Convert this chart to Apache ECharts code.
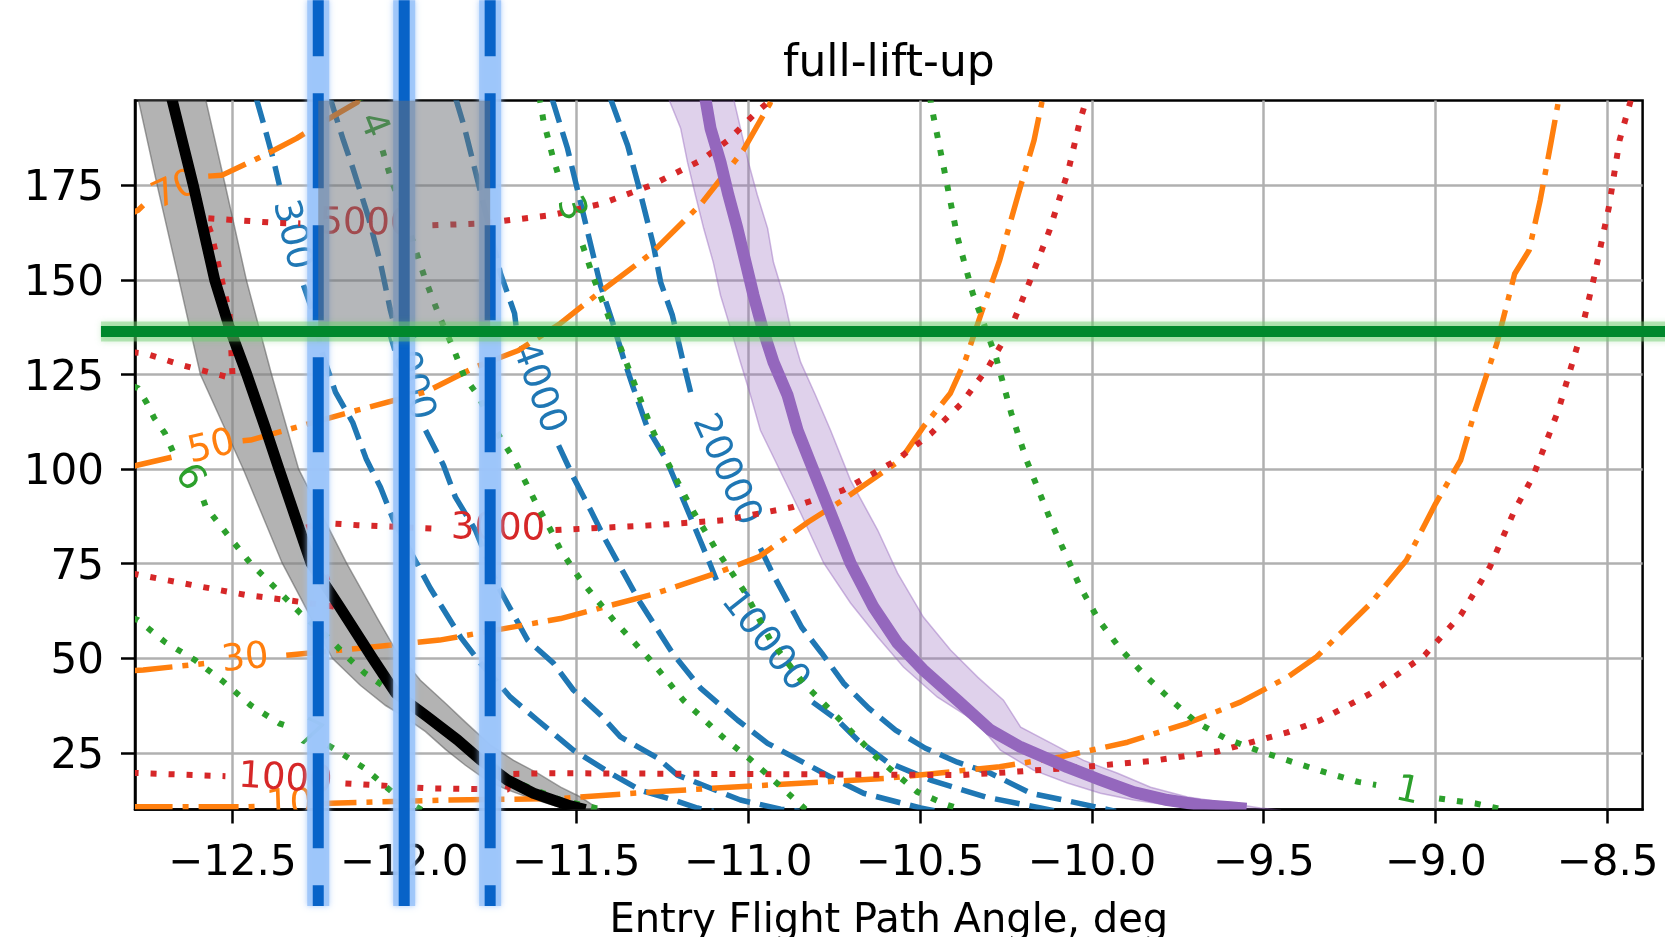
<!DOCTYPE html>
<html>
<head>
<meta charset="utf-8">
<script src="https://cdn.jsdelivr.net/npm/echarts@6/dist/echarts.min.js"></script>
<style>
  html, body { margin: 0; padding: 0; background: #fff; }
  #chart { width: 1665px; height: 937px; }
</style>
</head>
<body>
<div id="chart"></div>
<script>
// ---- axes ----
const xRange = [-12.783, -8.398];
const yRange = [10, 197.5];
const xTicks = [-12.5, -12.0, -11.5, -11.0, -10.5, -10.0, -9.5, -9.0, -8.5];
const yTicks = [25, 50, 75, 100, 125, 150, 175];

// ---- contour lines: [entry flight path angle, y]; null marks the inline label gap ----
const blue300 = [[-12.43,198],[-12.406,190.4],[-12.380,181.7],[-12.363,175.1], null, [-12.293,148.7],[-12.261,140.2],[-12.241,131.4],[-12.200,120.4],[-12.150,112.4],[-12.110,102.6],[-12.069,95.2],[-12.031,86.5],[-11.924,68.5],[-11.836,55.6],[-11.778,48.7],[-11.691,39.7],[-11.612,33.6],[-11.508,25.7],[-11.400,19.6],[-11.313,15.1],[-11.217,12.5],[-11.147,10.4],[-11.10,9.5]];
const blue1000 = [[-12.215,198],[-12.177,187.0],[-12.150,179.8],[-12.104,166.6],[-12.069,154.5],[-12.040,142.0],[-12.034,139.9], null, [-11.938,110.3],[-11.886,101.1],[-11.851,92.6],[-11.793,83.9],[-11.726,68.8],[-11.641,54.8],[-11.566,48.7],[-11.508,41.6],[-11.429,35.0],[-11.371,29.2],[-11.263,23.6],[-11.205,19.1],[-11.022,12.5],[-10.905,10.1],[-10.85,9.5]];
const blue4000 = [[-11.85,198],[-11.825,190.4],[-11.801,181.7],[-11.743,160.5],[-11.720,151.8],[-11.679,141.2],[-11.673,136.7], null, [-11.551,106.3],[-11.508,97.9],[-11.458,89.2],[-11.414,81.2],[-11.318,65.4],[-11.220,51.4],[-11.138,42.1],[-11.030,33.6],[-10.943,27.5],[-10.760,18.6],[-10.664,14.3],[-10.498,10.4],[-10.45,9.5]];
const blue10000 = [[-11.57,198],[-11.525,184.8],[-11.478,167.1],[-11.429,148.6],[-11.394,138.9],[-11.362,129.3],[-11.333,121.4],[-11.292,110.8],[-11.237,102.4],[-11.176,89.2],[-11.109,74.6],[-11.092,70.7], null, [-10.812,38.4],[-10.739,33.6],[-10.681,28.4],[-10.594,22.5],[-10.469,17.8],[-10.309,13.3],[-10.149,10.4],[-10.10,9.5]];
const blue20000 = [[-11.40,198],[-11.350,185.6],[-11.321,175.8],[-11.275,159.2],[-11.254,149.4],[-11.220,140.7],[-11.191,129.3],[-11.167,120.4], null, [-10.964,79.1],[-10.929,72.5],[-10.844,58.2],[-10.786,51.4],[-10.722,43.4],[-10.649,36.8],[-10.571,31.0],[-10.484,26.2],[-10.391,22.5],[-10.295,19.6],[-10.178,14.3],[-10.082,12.5],[-9.975,10.4],[-9.93,9.5]];

const orange10 = [[-12.79,10.7],[-12.459,10.7],[-12.412,10.9], null, [-12.255,11.4],[-12.239,11.6],[-11.877,12.5],[-11.545,12.9],[-11.270,14.7],[-10.936,16.5],[-10.602,18.2],[-10.268,21.3],[-10.091,23.9],[-9.896,27.8],[-9.722,32.8],[-9.568,38.4],[-9.431,45.0],[-9.346,50.4],[-9.189,64.5],[-9.085,75.9],[-9.000,90.9],[-8.927,102.4],[-8.885,115.6],[-8.822,133.2],[-8.770,151.7],[-8.728,157.9],[-8.696,171.1],[-8.665,186.1],[-8.644,196.7],[-8.64,198.5]];
const orange30 = [[-12.79,46.7],[-12.759,46.9],[-12.582,48.6], null, [-12.343,50.8],[-12.136,52.6],[-11.897,54.8],[-11.545,60.5],[-11.270,67.1],[-11.092,72.5],[-10.969,76.8],[-10.824,86.1],[-10.725,91.8],[-10.557,102.4],[-10.490,111.2],[-10.412,120.0],[-10.368,128.8],[-10.312,143.8],[-10.268,155.3],[-10.213,173.0],[-10.168,187.0],[-10.145,197.1],[-10.14,198.5]];
const orange50 = [[-12.79,100.7],[-12.774,101.1],[-12.651,103.7], null, [-12.470,107.5],[-12.447,107.7],[-12.136,115.6],[-11.938,120.4],[-11.793,127.0],[-11.668,131.4],[-11.545,138.6],[-11.437,146.4],[-11.281,157.1],[-11.136,170.2],[-11.014,184.3],[-10.936,196.7],[-10.93,198.5]];
const orange70 = [[-12.79,167.8],[-12.774,168.5],[-12.759,169.8], null, [-12.570,177.5],[-12.531,177.7],[-12.416,182.6],[-12.313,187.5],[-12.241,191.5],[-12.136,197.1],[-12.13,198.5]];

const red1000 = [[-12.79,19.7],[-12.759,19.6],[-12.520,18.8], null, [-12.171,16.9],[-11.928,15.6],[-11.700,15.3],[-11.688,19.4],[-11.581,19.6],[-10.800,19.3],[-10.379,19.1],[-10.236,19.9],[-10.033,21.2],[-9.829,22.8],[-9.631,25.4],[-9.431,30.4],[-9.335,33.6],[-9.189,40.7],[-9.032,50.8],[-8.927,61.4],[-8.842,74.2],[-8.770,89.2],[-8.717,98.0],[-8.643,115.6],[-8.580,135.0],[-8.539,150.8],[-8.496,169.3],[-8.465,187.0],[-8.435,196.7],[-8.43,198.5]];
const red3000 = [[-12.79,72.4],[-12.769,72.0],[-12.613,69.3],[-12.458,66.7],[-12.343,65.4],[-12.198,63.6],[-12.238,74.6],[-12.281,86.1],[-12.136,85.2],[-11.918,84.3],[-11.894,84.3], null, [-11.560,83.9],[-11.270,85.2],[-11.069,86.5],[-10.869,90.0],[-10.724,94.4],[-10.635,98.9],[-10.568,102.4],[-10.468,109.4],[-10.379,117.4],[-10.301,127.0],[-10.234,137.6],[-10.179,150.0],[-10.123,163.2],[-10.068,179.1],[-10.034,192.3],[-10.018,197.1],[-10.015,198.5]];
const red5000 = [[-12.79,130.9],[-12.754,130.6],[-12.645,127.5],[-12.499,124.0],[-12.508,141.2],[-12.535,151.8],[-12.561,162.4],[-12.578,166.4],[-12.364,165.1],[-12.302,165.0], null, [-11.918,164.5],[-11.772,165.0],[-11.616,166.7],[-11.570,167.2],[-11.426,170.2],[-11.281,175.1],[-11.136,181.7],[-11.058,187.0],[-10.980,194.0],[-10.936,197.5],[-10.93,198.5]];

const green1 = [[-10.470,198.5],[-10.468,196.7],[-10.429,179.0],[-10.391,161.4],[-10.346,146.4],[-10.279,129.7],[-10.234,114.7],[-10.190,102.4],[-10.112,84.7],[-10.034,68.9],[-9.980,60.1],[-9.919,52.7],[-9.849,45.8],[-9.776,39.5],[-9.698,33.2],[-9.611,28.8],[-9.514,25.5],[-9.417,22.6],[-9.320,19.8],[-9.225,17.3],[-9.173,16.5], null, [-8.990,12.9],[-8.884,11.6],[-8.810,10.1],[-8.79,9.5]];
const green3 = [[-11.606,198.5],[-11.604,197.0],[-11.595,192.2],[-11.569,183.0],[-11.554,178.5], null, [-11.481,159.2],[-11.449,150.5],[-11.362,130.1],[-11.284,111.6],[-11.237,102.4],[-11.167,90.0],[-11.095,79.1],[-11.007,67.2],[-10.935,54.8],[-10.839,43.4],[-10.731,33.6],[-10.624,23.6],[-10.507,14.6],[-10.420,11.2],[-10.382,10.1],[-10.37,9.5]];
const green4 = [[-12.125,198.5],[-12.121,197.5], null, [-12.063,184.3],[-12.037,176.4],[-12.001,167.7],[-11.970,158.8],[-11.938,150.0],[-11.897,140.3],[-11.855,131.5],[-11.825,124.4],[-11.782,119.1],[-11.752,113.0],[-11.710,106.8],[-11.679,102.4],[-11.616,90.9],[-11.574,83.9],[-11.545,78.6],[-11.487,70.7],[-11.391,60.1],[-11.284,49.5],[-11.188,38.9],[-11.074,29.2],[-10.998,23.6],[-10.920,17.3],[-10.833,10.1],[-10.82,9.5]];
const green6 = [[-12.79,122.0],[-12.774,121.4],[-12.748,117.4],[-12.727,113.5],[-12.696,109.5],[-12.668,103.7], null, [-12.584,91.8],[-12.577,90.0],[-12.509,82.1],[-12.447,75.1],[-12.374,68.5],[-12.302,61.9],[-12.229,56.1],[-12.156,49.5],[-12.115,46.1],[-12.031,40.8],[-11.950,35.5],[-11.877,31.0],[-11.834,27.6],[-11.793,25.0],[-11.740,21.8],[-11.691,17.8],[-11.545,12.5],[-11.429,10.1],[-11.41,9.5]];
const green7 = [[-12.79,60.6],[-12.774,60.1],[-12.696,54.3],[-12.608,49.5],[-12.526,43.8],[-12.447,37.6],[-12.364,32.8],[-12.331,31.8], null, [-12.221,27.0],[-12.198,25.7],[-12.115,20.9],[-12.031,14.3],[-11.953,10.1],[-11.94,9.5]];

// ---- boundary curves with their spread ----
const blackLine = [[-12.676,198],[-12.613,174.9],[-12.551,150.0],[-12.509,137.6],[-12.458,125.1],[-12.405,111.2],[-12.364,100.0],[-12.271,75.1],[-12.188,63.6],[-12.092,50.0],[-12.025,40.8],[-11.935,34.7],[-11.845,28.4],[-11.778,23.1],[-11.700,17.8],[-11.624,14.3],[-11.525,11.2],[-11.473,10.0]];
const blackLow = [[-12.774,198],[-12.718,174.9],[-12.655,150.0],[-12.593,125.1],[-12.468,100.0],[-12.355,75.2],[-12.209,50.0],[-12.127,42.8],[-12.054,37.5],[-11.996,34.3],[-11.938,30.6],[-11.880,25.9],[-11.822,21.7],[-11.764,18.0],[-11.705,15.4],[-11.633,13.0],[-11.560,10.9],[-11.502,9.8]];
const blackHigh = [[-12.578,198],[-12.520,174.9],[-12.459,150.0],[-12.386,125.1],[-12.307,100.0],[-12.168,75.2],[-12.075,60.1],[-12.025,52.2],[-11.953,44.2],[-11.880,38.1],[-11.822,33.1],[-11.749,27.0],[-11.682,23.0],[-11.612,19.6],[-11.545,15.9],[-11.487,13.3],[-11.429,9.8]];

const purpleLine = [[-11.124,198],[-11.109,190.1],[-11.080,181.2],[-11.057,172.5],[-11.031,163.7],[-11.007,154.7],[-10.984,146.0],[-10.958,137.3],[-10.926,128.3],[-10.885,119.6],[-10.856,110.3],[-10.818,101.6],[-10.760,88.4],[-10.702,75.2],[-10.635,63.5],[-10.565,54.0],[-10.490,46.9],[-10.391,38.9],[-10.295,31.0],[-10.207,26.5],[-10.071,21.2],[-9.975,17.8],[-9.879,14.6],[-9.780,12.5],[-9.684,11.2],[-9.597,10.6],[-9.55,10.2]];
const purpleLow = [[-11.231,198],[-11.196,190.2],[-11.176,181.2],[-11.153,172.5],[-11.129,163.7],[-11.101,154.7],[-11.080,146.0],[-11.051,137.3],[-11.022,128.3],[-10.993,119.6],[-10.964,110.3],[-10.847,88.4],[-10.780,75.2],[-10.702,64.6],[-10.623,55.6],[-10.548,47.7],[-10.449,39.7],[-10.332,32.9],[-10.266,25.7],[-10.170,20.4],[-10.071,17.0],[-9.975,14.3],[-9.879,12.5],[-9.780,11.2],[-9.684,10.4],[-9.60,9.8]];
const purpleHigh = [[-11.042,198],[-11.022,190.2],[-10.999,181.2],[-10.973,172.5],[-10.943,163.7],[-10.926,154.7],[-10.897,146.0],[-10.876,137.3],[-10.847,128.3],[-10.804,119.6],[-10.760,110.3],[-10.702,97.1],[-10.623,83.9],[-10.565,72.5],[-10.490,60.9],[-10.411,52.2],[-10.332,45.0],[-10.257,38.9],[-10.207,31.8],[-10.120,27.6],[-10.024,23.0],[-9.925,19.6],[-9.829,15.9],[-9.722,13.3],[-9.605,11.7],[-9.510,10.4],[-9.45,9.8]];

// ---- highlighted window ----
const guideX = [-12.25, -12.0, -11.75];
const windowX = [-12.25, -11.75];
const thresholdY = 136.4;

// ---------------------------------------------------------------
const FONT = '"DejaVu Sans"';
const COL = { blue: '#1f77b4', orange: '#ff7f0e', green: '#2ca02c', red: '#d62728', purple: '#9467bd' };
const DASHED = [25, 10];
const DOTTED = [6, 12];
const DASHDOT = [40, 10, 6, 10];

const GRID = { left: 135, top: 100.5, width: 1507.6, height: 709 };

const plainNum = v => (v < 0 ? '\u2212' : '') + Math.abs(v);
const fmtX = v => (v < 0 ? '\u2212' : '') + Math.abs(v).toFixed(1);

function splitSegments(pts) {
  const segs = [[]];
  pts.forEach(p => { if (p === null) segs.push([]); else segs[segs.length - 1].push(p); });
  return segs;
}

// a contour polyline with a rotated inline label sitting in its gap
function contour(pts, label, color, dash, width) {
  return {
    type: 'custom', coordinateSystem: 'cartesian2d', clip: true, silent: true, z: 3,
    data: [[0, 0]],
    renderItem(params, api) {
      const segs = splitSegments(pts).map(s => s.map(p => api.coord(p)));
      const kids = segs.map(s => ({
        type: 'polyline', shape: { points: s },
        style: { fill: null, stroke: color, lineWidth: width, lineDash: dash, lineCap: 'butt', lineJoin: 'round' }
      }));
      if (label && segs.length > 1) {
        const a = segs[0][segs[0].length - 1], b = segs[1][0];
        let ang = Math.atan2(b[1] - a[1], b[0] - a[0]);
        if (ang > Math.PI / 2) ang -= Math.PI;
        if (ang < -Math.PI / 2) ang += Math.PI;
        kids.push({
          type: 'text', x: (a[0] + b[0]) / 2, y: (a[1] + b[1]) / 2, rotation: -ang,
          style: { text: label, fill: color, font: '37px ' + FONT, align: 'center', verticalAlign: 'middle' }
        });
      }
      return { type: 'group', children: kids };
    }
  };
}

// shaded spread between two boundary curves
function band(low, high, fill, edge) {
  return {
    type: 'custom', coordinateSystem: 'cartesian2d', clip: true, silent: true, z: 2,
    data: [[0, 0]],
    renderItem(params, api) {
      const a = low.map(p => api.coord(p));
      const b = high.map(p => api.coord(p));
      return {
        type: 'group', children: [
          { type: 'polygon', shape: { points: a.concat(b.slice().reverse()) }, style: { fill: fill, stroke: null } },
          { type: 'polyline', shape: { points: a }, style: { fill: null, stroke: edge, lineWidth: 1.5 } },
          { type: 'polyline', shape: { points: b }, style: { fill: null, stroke: edge, lineWidth: 1.5 } }
        ]
      };
    }
  };
}

function thickLine(pts, color, width) {
  return {
    type: 'custom', coordinateSystem: 'cartesian2d', clip: true, silent: true, z: 4,
    data: [[0, 0]],
    renderItem(params, api) {
      return {
        type: 'polyline', shape: { points: pts.map(p => api.coord(p)) },
        style: { fill: null, stroke: color, lineWidth: width, lineJoin: 'round', lineCap: 'butt' }
      };
    }
  };
}

// vertical guide lines, running past the plot frame
const guides = {
  type: 'custom', coordinateSystem: 'cartesian2d', clip: false, silent: true, z: 5,
  data: [[0, 0]],
  renderItem(params, api) {
    const kids = [];
    guideX.forEach((x, i) => {
      const p0 = api.coord([x, 224]), p1 = api.coord([x, -15.5]);
      const shape = { x1: p0[0], y1: p0[1], x2: p1[0], y2: p1[1] };
      kids.push({ type: 'line', shape, style: { stroke: 'rgba(155,196,250,0.9)', lineWidth: 22, shadowBlur: 6, shadowColor: 'rgba(155,196,250,0.9)' } });
      kids.push({ type: 'line', shape, style: { stroke: '#0863c8', lineWidth: 11, lineDash: i === 1 ? null : [95, 37], lineDashOffset: 39, lineCap: 'butt' } });
    });
    return { type: 'group', children: kids };
  }
};

// translucent window above the threshold
const windowRect = {
  type: 'custom', coordinateSystem: 'cartesian2d', clip: true, silent: true, z: 6,
  data: [[0, 0]],
  renderItem(params, api) {
    const p0 = api.coord([windowX[0], yRange[1]]), p1 = api.coord([windowX[1], thresholdY]);
    return { type: 'rect', shape: { x: p0[0], y: p0[1], width: p1[0] - p0[0], height: p1[1] - p0[1] },
             style: { fill: 'rgba(108,112,118,0.5)' } };
  }
};

// horizontal threshold line
const threshold = {
  type: 'custom', coordinateSystem: 'cartesian2d', clip: false, silent: true, z: 7,
  data: [[0, 0]],
  renderItem(params, api) {
    const p0 = api.coord([-12.882, thresholdY]), p1 = api.coord([-8.2, thresholdY]);
    const shape = { x1: p0[0], y1: p0[1], x2: p1[0], y2: p1[1] };
    return { type: 'group', children: [
      { type: 'line', shape, style: { stroke: 'rgba(110,205,110,0.45)', lineWidth: 20, shadowBlur: 6, shadowColor: 'rgba(110,205,110,0.6)' } },
      { type: 'line', shape, style: { stroke: '#00882c', lineWidth: 11 } }
    ] };
  }
};

const axisCommon = {
  type: 'value',
  axisLine: { show: true, onZero: false, lineStyle: { color: '#000', width: 2.5 } },
  splitLine: { show: true, lineStyle: { color: '#b0b0b0', width: 2.5 } }
};

const option = {
  animation: false,
  backgroundColor: '#fff',
  grid: Object.assign({
    show: true, borderColor: '#000', borderWidth: 2.5, backgroundColor: 'transparent',
    containLabel: false, outerBoundsMode: 'none'
  }, GRID),
  graphic: [{
    type: 'text', x: GRID.left + GRID.width / 2, y: 65, silent: true,
    style: { text: 'full-lift-up', font: '44px ' + FONT, fill: '#000', align: 'center', verticalAlign: 'middle' }
  }],
  xAxis: Object.assign({}, axisCommon, {
    min: xRange[0], max: xRange[1],
    axisTick: { show: true, length: 14, lineStyle: { color: '#000', width: 2.5 }, customValues: xTicks },
    axisLabel: { customValues: xTicks, formatter: fmtX, fontSize: 42, fontFamily: 'DejaVu Sans', color: '#000', margin: 34 },
    name: 'Entry Flight Path Angle, deg', nameLocation: 'middle', nameGap: 92,
    nameTextStyle: { fontSize: 40, fontFamily: 'DejaVu Sans', color: '#000' }
  }),
  yAxis: Object.assign({}, axisCommon, {
    min: yRange[0], max: yRange[1],
    axisTick: { show: true, length: 14, lineStyle: { color: '#000', width: 2.5 }, customValues: yTicks },
    axisLabel: { customValues: yTicks, formatter: plainNum, fontSize: 42, fontFamily: 'DejaVu Sans', color: '#000', margin: 31,
                 verticalAlign: 'top', lineHeight: 8 }
  }),
  series: [
    band(blackLow, blackHigh, 'rgba(128,128,128,0.6)', 'rgba(90,90,90,0.55)'),
    band(purpleLow, purpleHigh, 'rgba(148,103,189,0.3)', 'rgba(148,103,189,0.45)'),
    contour(blue300, '300', COL.blue, DASHED, 5.5),
    contour(blue1000, '1000', COL.blue, DASHED, 5.5),
    contour(blue4000, '4000', COL.blue, DASHED, 5.5),
    contour(blue10000, '10000', COL.blue, DASHED, 5.5),
    contour(blue20000, '20000', COL.blue, DASHED, 5.5),
    contour(orange10, '10', COL.orange, DASHDOT, 5.5),
    contour(orange30, '30', COL.orange, DASHDOT, 5.5),
    contour(orange50, '50', COL.orange, DASHDOT, 5.5),
    contour(orange70, '70', COL.orange, DASHDOT, 5.5),
    contour(red1000, '1000', COL.red, DOTTED, 6),
    contour(red3000, '3000', COL.red, DOTTED, 6),
    contour(red5000, '5000', COL.red, DOTTED, 6),
    contour(green1, '1', COL.green, DOTTED, 6),
    contour(green3, '3', COL.green, DOTTED, 6),
    contour(green4, '4', COL.green, DOTTED, 6),
    contour(green6, '6', COL.green, DOTTED, 6),
    contour(green7, '7', COL.green, DOTTED, 6),
    thickLine(blackLine, '#000', 11),
    thickLine(purpleLine, COL.purple, 12),
    guides,
    windowRect,
    threshold
  ]
};

const chart = echarts.init(document.getElementById('chart'));
chart.setOption(option);
</script>
</body>
</html>
